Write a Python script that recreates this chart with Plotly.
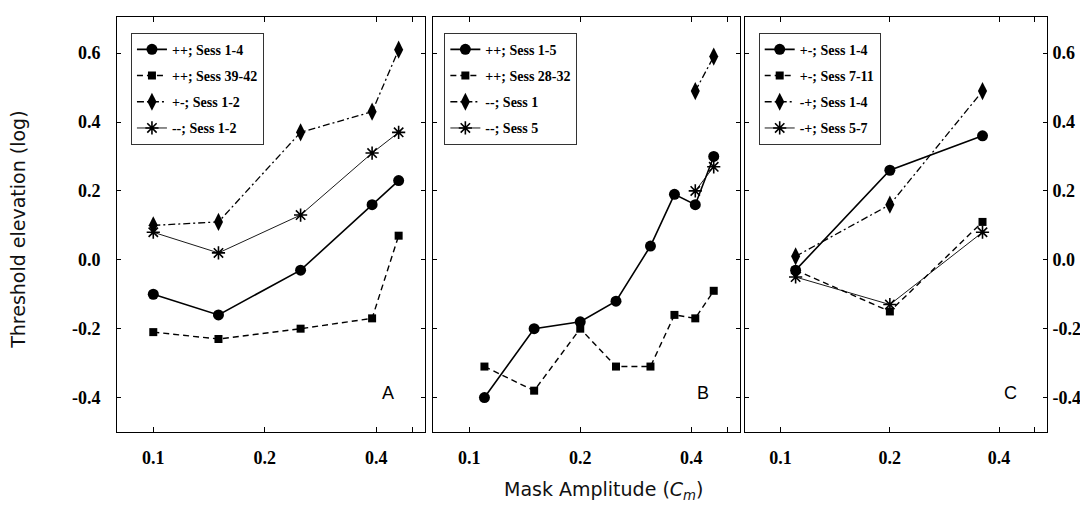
import plotly.graph_objects as go

# ---------------- data ----------------
# Panel A
a_x = [0.10, 0.15, 0.25, 0.39, 0.46]
a_pp_s1_4 = [-0.10, -0.16, -0.03, 0.16, 0.23]
a_pp_s39_42 = [-0.21, -0.23, -0.20, -0.17, 0.07]
a_pm_s1_2 = [0.10, 0.11, 0.37, 0.43, 0.61]
a_mm_s1_2 = [0.08, 0.02, 0.13, 0.31, 0.37]
a_names = ["++; Sess 1-4", "++; Sess 39-42", "+-; Sess 1-2", "--; Sess 1-2"]

# Panel B
b_x = [0.11, 0.15, 0.20, 0.25, 0.31, 0.36, 0.41, 0.46]
b_pp_s1_5 = [-0.40, -0.20, -0.18, -0.12, 0.04, 0.19, 0.16, 0.30]
b_pp_s28_32 = [-0.31, -0.38, -0.20, -0.31, -0.31, -0.16, -0.17, -0.09]
b_x_short = [0.41, 0.46]
b_mm_s1 = [0.49, 0.59]
b_mm_s5 = [0.20, 0.27]
b_names = ["++; Sess 1-5", "++; Sess 28-32", "--; Sess 1", "--; Sess 5"]

# Panel C
c_x = [0.11, 0.20, 0.36]
c_pm_s1_4 = [-0.03, 0.26, 0.36]
c_pm_s7_11 = [-0.03, -0.15, 0.11]
c_mp_s1_4 = [0.01, 0.16, 0.49]
c_mp_s5_7 = [-0.05, -0.13, 0.08]
c_names = ["+-; Sess 1-4", "+-; Sess 7-11", "-+; Sess 1-4", "-+; Sess 5-7"]

x_tick_vals = [0.1, 0.2, 0.4]
x_tick_text = ["0.1", "0.2", "0.4"]
x_minor_vals = [0.5]
y_tick_vals = [-0.4, -0.2, 0.0, 0.2, 0.4, 0.6]
y_tick_text = ["-0.4", "-0.2", "0.0", "0.2", "0.4", "0.6"]
panel_letters = ["A", "B", "C"]

# ---------------- styles ----------------
STY = {
    "circle": dict(line=dict(color="black", width=1.6, dash="solid"),
                   marker=dict(symbol="circle", size=11, color="black")),
    "square": dict(line=dict(color="black", width=1.4, dash="6px,4px"),
                   marker=dict(symbol="square", size=8, color="black")),
    "diamond": dict(line=dict(color="black", width=1.3, dash="7px,3px,2px,3px"),
                    marker=dict(symbol="diamond-tall", size=13, color="black")),
    "star": dict(line=dict(color="black", width=0.9, dash="solid"),
                 marker=dict(symbol="asterisk-open", size=11, color="black",
                             line=dict(color="black", width=1.6))),
}

fig = go.Figure()
gid = [0]


def add(x, y, name, style, ax, leg):
    gid[0] += 1
    s = STY[style]
    fig.add_trace(go.Scatter(
        x=x, y=y, name=name, mode="lines+markers",
        line=s["line"], marker=s["marker"],
        xaxis="x" + ax, yaxis="y" + ax, legend=leg,
        legendgroup="g%d" % gid[0], hoverinfo="skip"))


add(a_x, a_pp_s1_4, a_names[0], "circle", "", "legend")
add(a_x, a_pp_s39_42, a_names[1], "square", "", "legend")
add(a_x, a_pm_s1_2, a_names[2], "diamond", "", "legend")
add(a_x, a_mm_s1_2, a_names[3], "star", "", "legend")

add(b_x, b_pp_s1_5, b_names[0], "circle", "2", "legend2")
add(b_x, b_pp_s28_32, b_names[1], "square", "2", "legend2")
add(b_x_short, b_mm_s1, b_names[2], "diamond", "2", "legend2")
add(b_x_short, b_mm_s5, b_names[3], "star", "2", "legend2")

add(c_x, c_pm_s1_4, c_names[0], "circle", "3", "legend3")
add(c_x, c_pm_s7_11, c_names[1], "square", "3", "legend3")
add(c_x, c_mp_s1_4, c_names[2], "diamond", "3", "legend3")
add(c_x, c_mp_s5_7, c_names[3], "star", "3", "legend3")

tickfont = dict(family="Liberation Serif", size=18, color="black", weight="bold")
xcommon = dict(type="log", range=[-1.098, -0.266], tickvals=x_tick_vals,
               ticktext=x_tick_text, ticks="inside", ticklen=5, tickcolor="black",
               minor=dict(tickvals=x_minor_vals, ticks="inside", ticklen=5,
                          tickcolor="black"),
               showline=True, linecolor="black", linewidth=1, mirror="ticks",
               showgrid=False, zeroline=False, tickfont=tickfont,
               ticklabelstandoff=9)
ycommon = dict(range=[-0.5, 0.705], tickvals=y_tick_vals, ticktext=y_tick_text,
               ticks="inside", ticklen=4, tickcolor="black", showline=True,
               linecolor="black", linewidth=1, mirror="ticks", showgrid=False,
               zeroline=False, tickfont=tickfont)

dA = [0.0, 0.3312]
dB = [0.3398, 0.6699]
dC = [0.6753, 1.0]

legfont = dict(family="Liberation Serif", size=14, color="black", weight="bold")
legcommon = dict(yanchor="top", xanchor="left", y=0.962, bordercolor="#333",
                 borderwidth=1, bgcolor="white", font=legfont, tracegroupgap=5,
                 itemwidth=30)

# page body adds an 8px offset; figure is sized so the plot lands where the
# reference has it on screen
fig.update_layout(
    width=1080, height=499,
    margin=dict(l=109, r=41, t=9, b=75, autoexpand=False),
    paper_bgcolor="white", plot_bgcolor="white",
    showlegend=True,
    xaxis=dict(domain=dA, anchor="y", **xcommon),
    xaxis2=dict(domain=dB, anchor="y2", **xcommon),
    xaxis3=dict(domain=dC, anchor="y3", **xcommon),
    yaxis=dict(anchor="x", side="left", ticklabelstandoff=12, **ycommon),
    yaxis2=dict(anchor="x2", showticklabels=False, **ycommon),
    yaxis3=dict(anchor="x3", side="right", ticklabelstandoff=1, **ycommon),
    legend=dict(x=0.015, **legcommon),
    legend2=dict(x=0.352, **legcommon),
    legend3=dict(x=0.690, **legcommon),
)

letter_font = dict(family="Liberation Sans", size=18, color="black")
for i, ax in enumerate(["x", "x2", "x3"]):
    fig.add_annotation(text=panel_letters[i], xref=ax + " domain",
                       yref=("y" if ax == "x" else "y" + ax[1:]) + " domain",
                       x=0.88, y=0.094, showarrow=False, font=letter_font,
                       xanchor="center", yanchor="middle")

fig.add_annotation(text="Threshold elevation (log)", xref="paper", yref="paper",
                   x=-0.1065, y=0.487, textangle=-90, showarrow=False,
                   font=dict(family="DejaVu Sans", size=19, color="#111"),
                   xanchor="center", yanchor="middle")
fig.add_annotation(text="Mask Amplitude (<i>C</i><sub><i>m</i></sub>)",
                   xref="paper", yref="paper", x=0.5226, y=-0.14,
                   showarrow=False,
                   font=dict(family="DejaVu Sans", size=19, color="#111"),
                   xanchor="center", yanchor="middle")

fig.write_html("out.html")
